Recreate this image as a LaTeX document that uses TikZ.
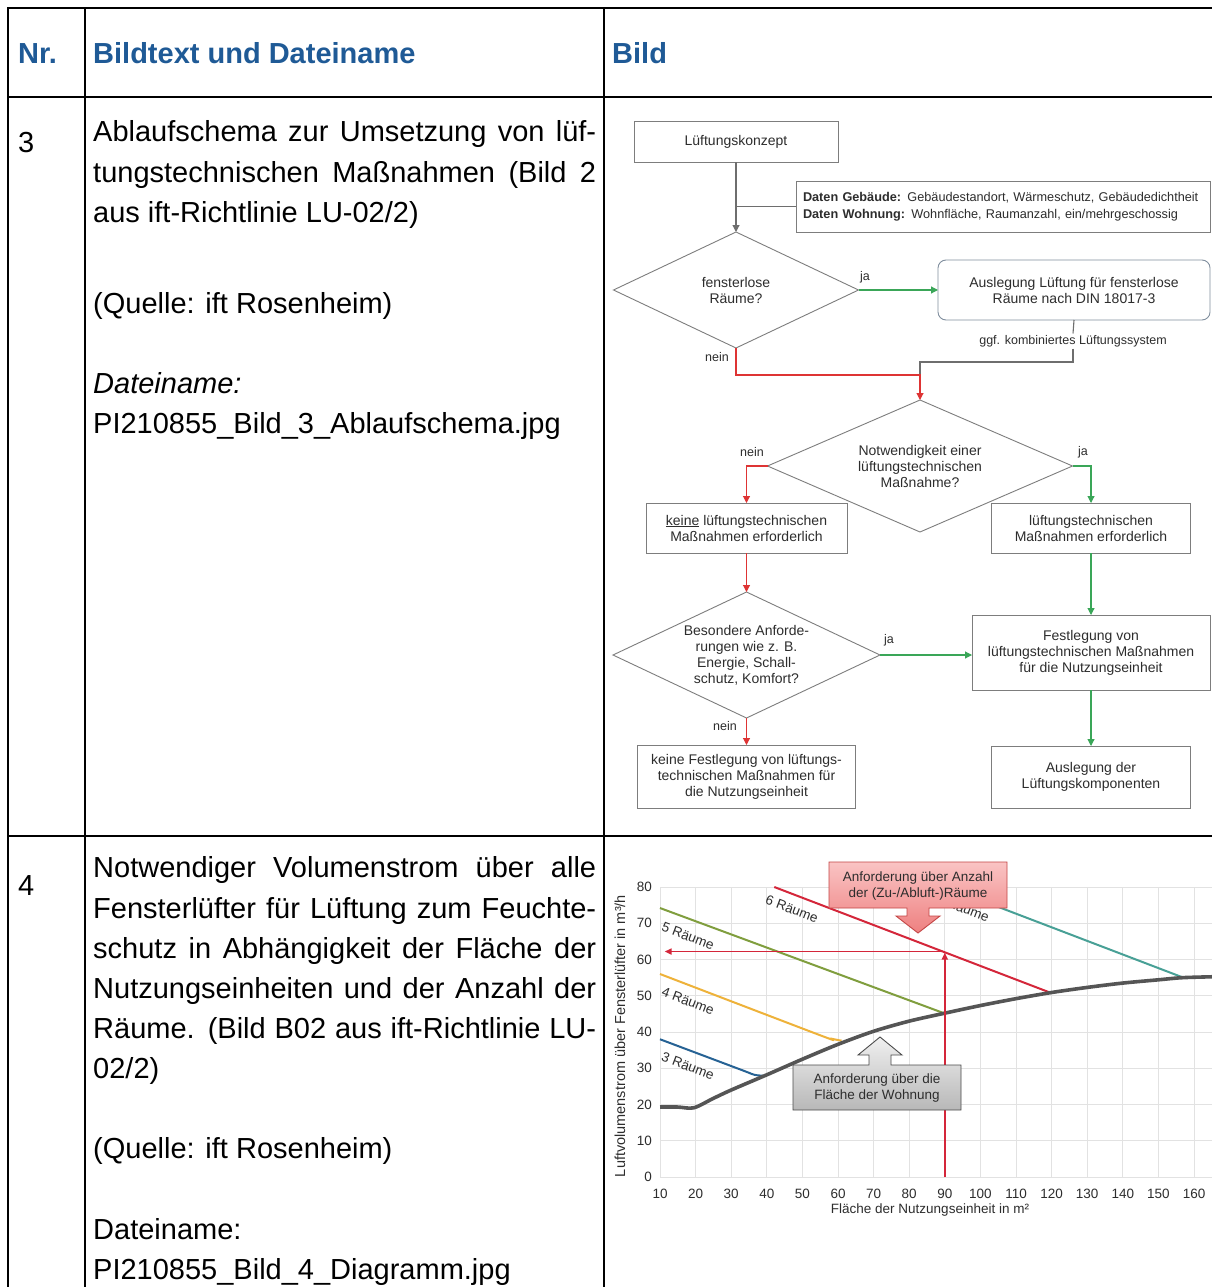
\documentclass[tikz,border=0pt]{standalone}
\usepackage{fontspec}
\setmainfont{Liberation Sans}
\usetikzlibrary{arrows.meta,shapes.geometric}
\definecolor{hdrblue}{RGB}{31,90,150}
\definecolor{fline}{RGB}{110,110,110}
\definecolor{fborder}{RGB}{125,125,125}
\definecolor{fred}{RGB}{222,52,52}
\definecolor{fgreen}{RGB}{58,166,88}
\definecolor{ftext}{RGB}{45,45,45}
\definecolor{gridc}{RGB}{226,226,226}
\definecolor{cblue}{RGB}{38,98,148}
\definecolor{corange}{RGB}{238,178,58}
\definecolor{colive}{RGB}{128,158,62}
\definecolor{cred}{RGB}{212,38,58}
\definecolor{cteal}{RGB}{72,160,150}
\definecolor{ccurve}{RGB}{85,85,85}
\definecolor{calltop}{RGB}{250,196,196}
\definecolor{callbot}{RGB}{238,128,128}
\definecolor{callbd}{RGB}{196,70,70}
\definecolor{roundbd}{RGB}{128,142,158}
\newcommand{\fsz}[2]{\fontsize{#1}{#2}\selectfont}
\begin{document}
\begin{tikzpicture}[x=1pt,y=-1pt,
  tbl/.style={line width=2.6pt,line cap=rect},
  body/.style={anchor=base west,inner sep=0pt,font={\fsz{29}{40}}},
  hdr/.style={anchor=base west,inner sep=0pt,font={\fsz{29}{35}\bfseries},text=hdrblue},
  fbox/.style={draw=fborder,line width=0.9pt,fill=white,align=center,inner sep=0pt,outer sep=0pt,font={\fsz{14}{16}},text=ftext},
  fdia/.style={diamond,draw=fborder,line width=0.9pt,align=center,inner sep=0pt,outer sep=0pt,font={\fsz{14}{16}},text=ftext},
  farr/.style={-{Triangle[length=7pt,width=7pt]},line width=1.1pt},
  lbl/.style={inner sep=0pt,font={\fsz{12.5}{14}},text=ftext},
  tick/.style={inner sep=0pt,font={\fsz{13.5}{15}},text=ftext},
  rlab/.style={inner sep=0pt,font={\fsz{13.5}{15}},text=ftext,rotate=-20.7},
  callt/.style={inner sep=0pt,align=center,font={\fsz{13.5}{16}},text=ftext},
  cline/.style={line width=2pt},
]
\useasboundingbox[fill=white] (0,0) rectangle (1212,1287);

% ---------------- table ----------------
\draw[tbl] (8,8) -- (1212,8);
\draw[tbl] (8,97) -- (1212,97);
\draw[tbl] (8,836) -- (1212,836);
\draw[tbl] (8,8) -- (8,1287);
\draw[tbl] (85,8) -- (85,1287);
\draw[tbl] (604,8) -- (604,1287);

\node[hdr] (hnr) at (18,64) {Nr.};
\node[hdr] (hbt) at (93,64) {Bildtext und Dateiname};
\node[hdr] (hbild) at (612,64) {Bild};

\node[body] (n3) at (18,153) {3};
\node[body] (t3a) at (93,142) {\makebox[503pt][s]{Ablaufschema zur Umsetzung von lüf-}};
\node[body] (t3b) at (93,182) {\makebox[503pt][s]{tungstechnischen Maßnahmen (Bild 2}};
\node[body] (t3c) at (93,222) {aus ift-Richtlinie LU-02/2)};
\node[body] (t3d) at (93,313) {(Quelle: ift Rosenheim)};
\node[body] (t3e) at (93,393) {\itshape Dateiname:};
\node[body] (t3f) at (93,433) {PI210855\_Bild\_3\_Ablaufschema.jpg};

\node[body] (n4) at (18,895) {4};
\node[body] (t4a) at (93,877) {\makebox[503pt][s]{Notwendiger Volumenstrom über alle}};
\node[body] (t4b) at (93,918) {\makebox[503pt][s]{Fensterlüfter für Lüftung zum Feuchte-}};
\node[body] (t4c) at (93,958) {\makebox[503pt][s]{schutz in Abhängigkeit der Fläche der}};
\node[body] (t4d) at (93,998) {\makebox[503pt][s]{Nutzungseinheiten und der Anzahl der}};
\node[body] (t4e) at (93,1038) {\makebox[503pt][s]{Räume. (Bild B02 aus ift-Richtlinie LU-}};
\node[body] (t4f) at (93,1078) {02/2)};
\node[body] (t4g) at (93,1158) {(Quelle: ift Rosenheim)};
\node[body] (t4h) at (93,1239) {Dateiname:};
\node[body] (t4i) at (93,1279) {PI210855\_Bild\_4\_Diagramm.jpg};

% ---------------- flowchart ----------------
\node[fbox,minimum width=204pt,minimum height=41pt] (konz) at (736,141.5) {Lüftungskonzept};
\node[fbox,font={\fsz{12.7}{16.5}},align=left,text width=400pt,inner xsep=7pt,minimum height=51pt] (daten) at (1003,206.5)
  {\textbf{Daten Gebäude:} Gebäudestandort, Wärmeschutz, Gebäudedichtheit\\\textbf{Daten Wohnung:} Wohnfläche, Raumanzahl, ein/mehrgeschossig};
\node[fdia,aspect=2.11,minimum width=245pt,minimum height=116pt] (d1) at (736,290) {fensterlose\\Räume?};
\node[fbox,draw=roundbd,rounded corners=8pt,minimum width=272pt,minimum height=60pt] (ausl) at (1074,290) {Auslegung Lüftung für fensterlose\\Räume nach DIN 18017-3};
\node[lbl,fill=white,inner sep=1.5pt] (ggf) at (1073,341) {ggf. kombiniertes Lüftungssystem};
\node[fdia,aspect=2.31,minimum width=305pt,minimum height=132pt] (d2) at (920,466) {Notwendigkeit einer\\lüftungstechnischen\\Maßnahme?};
\node[fbox,minimum width=201pt,minimum height=50pt] (keine) at (746.5,528) {\underline{keine} lüftungstechnischen\\Maßnahmen erforderlich};
\node[fbox,minimum width=199pt,minimum height=50pt] (lueft) at (1091,528) {lüftungstechnischen\\Maßnahmen erforderlich};
\node[fdia,aspect=2.12,minimum width=267pt,minimum height=126pt] (d3) at (746.5,655) {Besondere Anforde-\\rungen wie z. B.\\Energie, Schall-\\schutz, Komfort?};
\node[fbox,minimum width=238pt,minimum height=75pt] (fest) at (1091,652.5) {Festlegung von\\lüftungstechnischen Maßnahmen\\für die Nutzungseinheit};
\node[fbox,minimum width=218pt,minimum height=63pt] (kfest) at (746.5,776.5) {keine Festlegung von lüftungs-\\technischen Maßnahmen für\\die Nutzungseinheit};
\node[fbox,minimum width=199pt,minimum height=62pt] (auslk) at (1091,777) {Auslegung der\\Lüftungskomponenten};

\node[lbl] (ja1) at (865,277) {ja};
\node[lbl] (nein1) at (717,357) {nein};
\node[lbl] (nein2) at (752,452) {nein};
\node[lbl] (ja2) at (1083,452) {ja};
\node[lbl] (ja3) at (889,640) {ja};
\node[lbl] (nein3) at (725,726) {nein};

\coordinate (j1) at (920,375);
\draw[farr,fline] (konz.south) -- (d1.north);
\draw[fline,line width=1.1pt] (daten.west) -- (daten.west -| konz.south);
\draw[farr,fgreen] (d1.east) -- (ausl.west);
\draw[fline,line width=1.1pt] (ausl.south) -- (ggf.north);
\draw[fline,line width=1.1pt] (ggf.south) |- (920,362) -- (j1);
\draw[farr,fred] (d1.south) |- (j1) -- (d2.north);
\draw[farr,fred] (d2.west) -| (keine.north);
\draw[farr,fgreen] (d2.east) -| (lueft.north);
\draw[farr,fred] (keine.south) -- (d3.north);
\draw[farr,fgreen] (d3.east) -- (d3.east -| fest.west);
\draw[farr,fgreen] (lueft.south) -- (fest.north);
\draw[farr,fred] (d3.south) -- (kfest.north);
\draw[farr,fgreen] (fest.south) -- (auslk.north);

% ---------------- chart ----------------
\begin{scope}[shift={(624.4,1177)},x=3.56pt,y=3.625pt]
  \foreach \a in {10,20,...,170} {\draw[gridc,line width=1pt] (\a,0) -- (\a,80);}
  \foreach \v in {0,10,...,80} {\draw[gridc,line width=1pt] (10,\v) -- (168,\v);}
  \foreach \a in {10,20,...,160} {\node[tick] (xt\a) at (\a,-4.7) {\a};}
  \foreach \v in {0,10,...,80} {\node[tick,anchor=east] (yt\v) at (7.75,\v) {\v};}
  \draw[cline,cblue] plot[smooth,tension=0.5] coordinates {(10,38) (33,29.5) (36.5,28.2) (39.5,27.9)};
  \draw[cline,corange] plot[smooth,tension=0.5] coordinates {(10,56) (55,39.1) (58,38.2) (61,37.6)};
  \draw[cline,colive] (10,74.2) -- (90,45.1);
  \draw[cline,cred] (42.1,80) -- (119.5,50.9);
  \draw[cline,cteal] (90.4,80) -- (157,55);
  \draw[ccurve,line width=3.6pt] plot[smooth,tension=0.5] coordinates {(10,19.3) (15,19.3) (19.5,19.1) (25,21.7) (30,24) (40,28.2) (50,32.5) (60,36.6) (70,40.2) (80,43) (90,45.2) (100,47.3) (110,49.2) (120,50.9) (130,52.3) (140,53.5) (150,54.4) (157,55) (168,55.3)};
  \draw[cred,line width=1.7pt,-{Triangle[length=7pt,width=6pt]}] (90,0) -- (90,61.9);
  \draw[cred,line width=1.7pt,-{Triangle[length=7pt,width=6pt]}] (90,62.2) -- (11.3,62.2);
\end{scope}

\node[rlab] (r6) at (792,909) {6 Räume};
\node[rlab] (r5) at (688,936) {5 Räume};
\node[rlab] (r4) at (688,1001) {4 Räume};
\node[rlab] (r3) at (688,1066) {3 Räume};
\node[rlab] (r7) at (963,908) {7 Räume};

\node[rotate=90,inner sep=0pt,font={\fsz{14.5}{16}},text=ftext] (ytitle) at (620,1036) {Luftvolumenstrom über Fensterlüfter in m³/h};
\node[inner sep=0pt,font={\fsz{13.5}{15}},text=ftext] (xtitle) at (930,1210) {Fläche der Nutzungseinheit in m²};

% callouts
\draw[draw=callbd,line width=0.9pt,top color=calltop,bottom color=callbot]
  (829,862) -- (1007,862) -- (1007,908) -- (929,908) -- (929,916) -- (940,916) -- (918,933)
  -- (896,916) -- (907,916) -- (907,908) -- (829,908) -- cycle;
\node[callt] (callA) at (918,886) {Anforderung über Anzahl\\der (Zu-/Abluft-)Räume};
\draw[draw=black!70,line width=0.9pt,top color=black!6,bottom color=black!28]
  (793,1065) -- (869,1065) -- (869,1055) -- (858,1055) -- (880,1037) -- (902,1055)
  -- (891,1055) -- (891,1065) -- (961,1065) -- (961,1110) -- (793,1110) -- cycle;
\node[callt] (callB) at (877,1088) {Anforderung über die\\Fläche der Wohnung};
\end{tikzpicture}
\end{document}
